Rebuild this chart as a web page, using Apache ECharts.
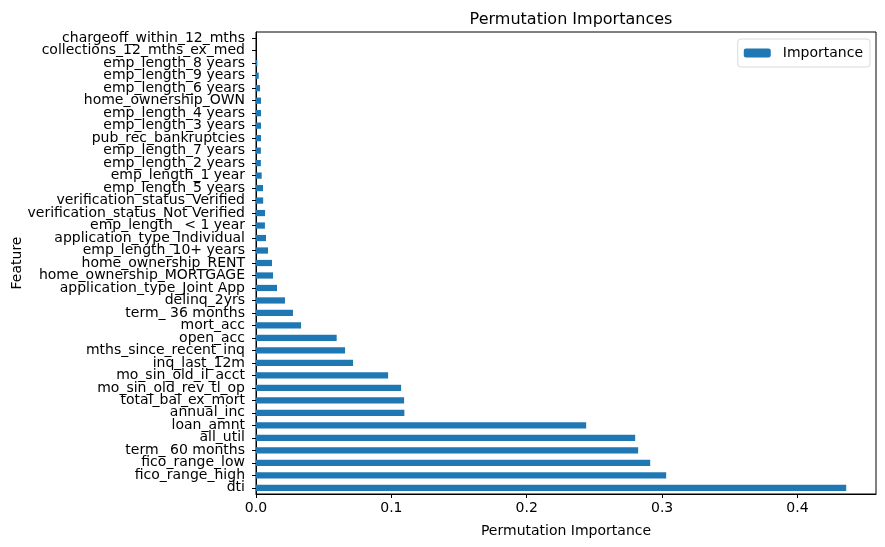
<!DOCTYPE html>
<html lang="en">
<head>
    <meta charset="UTF-8">
    <title>Permutation Importances</title>
    <script src="https://cdn.jsdelivr.net/npm/echarts@6/dist/echarts.min.js"></script>
    <style>
        html, body { margin: 0; padding: 0; background: #fff; }
        #main { width: 885px; height: 547px; }
    </style>
</head>
<body>
    <div id="main"></div>
    <script>
        // bottom to top, same order as the bars are stacked in the picture
        var features = [
            'dti', 'fico_range_high', 'fico_range_low', 'term_ 60 months', 'all_util',
            'loan_amnt', 'annual_inc', 'total_bal_ex_mort', 'mo_sin_old_rev_tl_op', 'mo_sin_old_il_acct',
            'inq_last_12m', 'mths_since_recent_inq', 'open_acc', 'mort_acc', 'term_ 36 months',
            'delinq_2yrs', 'application_type_Joint App', 'home_ownership_MORTGAGE', 'home_ownership_RENT', 'emp_length_10+ years',
            'application_type_Individual', 'emp_length_ < 1 year', 'verification_status_Not Verified', 'verification_status_Verified', 'emp_length_5 years',
            'emp_length_1 year', 'emp_length_2 years', 'emp_length_7 years', 'pub_rec_bankruptcies', 'emp_length_3 years',
            'emp_length_4 years', 'home_ownership_OWN', 'emp_length_6 years', 'emp_length_9 years', 'emp_length_8 years',
            'collections_12_mths_ex_med', 'chargeoff_within_12_mths'
        ];
        var importance = [
            0.436, 0.303, 0.2912, 0.2823, 0.2801,
            0.2439, 0.1096, 0.1094, 0.1072, 0.0976,
            0.0717, 0.0658, 0.0596, 0.0333, 0.0273,
            0.0214, 0.0155, 0.0126, 0.0118, 0.0089,
            0.0074, 0.0066, 0.0067, 0.0053, 0.0052,
            0.0042, 0.0036, 0.0036, 0.0037, 0.0037,
            0.0037, 0.0037, 0.003, 0.002, 0.001,
            0.0, 0.0
        ];
        var xTicks = [0, 0.1, 0.2, 0.3, 0.4];

        var font = 'DejaVu Sans';
        var myChart = echarts.init(document.getElementById('main'));

        myChart.setOption({
            animation: false,
            backgroundColor: '#fff',
            title: {
                text: 'Permutation Importances',
                left: 566,
                top: 7,
                textAlign: 'center',
                textStyle: { fontFamily: font, fontSize: 16, fontWeight: 'normal', color: '#000' }
            },
            legend: {
                data: ['Importance'],
                right: 15,
                top: 39,
                orient: 'vertical',
                itemWidth: 27,
                itemHeight: 9,
                itemGap: 0,
                padding: [7, 7, 7, 6],
                borderColor: '#d9d9d9',
                borderWidth: 1,
                borderRadius: 3,
                backgroundColor: '#fff',
                textStyle: { fontFamily: font, fontSize: 14, color: '#000', padding: [0, 0, 0, 7] }
            },
            grid: {
                left: 256,
                right: 9,
                top: 32,
                bottom: 53,
                show: true,
                borderColor: '#000',
                borderWidth: 1,
                containLabel: false,
                outerBoundsMode: 'none'
            },
            xAxis: {
                type: 'value',
                min: 0,
                max: 0.458,
                interval: 0.1,
                name: 'Permutation Importance',
                nameLocation: 'middle',
                nameGap: 30,
                nameMoveOverlap: false,
                nameTextStyle: { fontFamily: font, fontSize: 14, color: '#000' },
                splitLine: { show: false },
                axisLine: { show: true, lineStyle: { color: '#000', width: 1 } },
                axisTick: { show: true, length: 4, lineStyle: { color: '#000' } },
                axisLabel: {
                    fontFamily: font, fontSize: 14, color: '#000', margin: 7,
                    showMaxLabel: false,
                    formatter: function (v) {
                        return xTicks.some(function (t) { return Math.abs(t - v) < 1e-9; }) ? v.toFixed(1) : '';
                    }
                }
            },
            yAxis: {
                type: 'category',
                data: features,
                name: 'Feature',
                nameLocation: 'middle',
                nameGap: 232,
                nameRotate: 90,
                nameMoveOverlap: false,
                nameTextStyle: { fontFamily: font, fontSize: 14, color: '#000' },
                axisLine: { show: true, lineStyle: { color: '#000', width: 1 } },
                axisTick: { show: true, alignWithLabel: true, length: 4, lineStyle: { color: '#000' } },
                axisLabel: { fontFamily: font, fontSize: 14, color: '#000', margin: 11, interval: 0 }
            },
            series: [{
                name: 'Importance',
                type: 'bar',
                data: importance,
                barWidth: '50%',
                itemStyle: { color: '#1f77b4' }
            }]
        });
    </script>
</body>
</html>
